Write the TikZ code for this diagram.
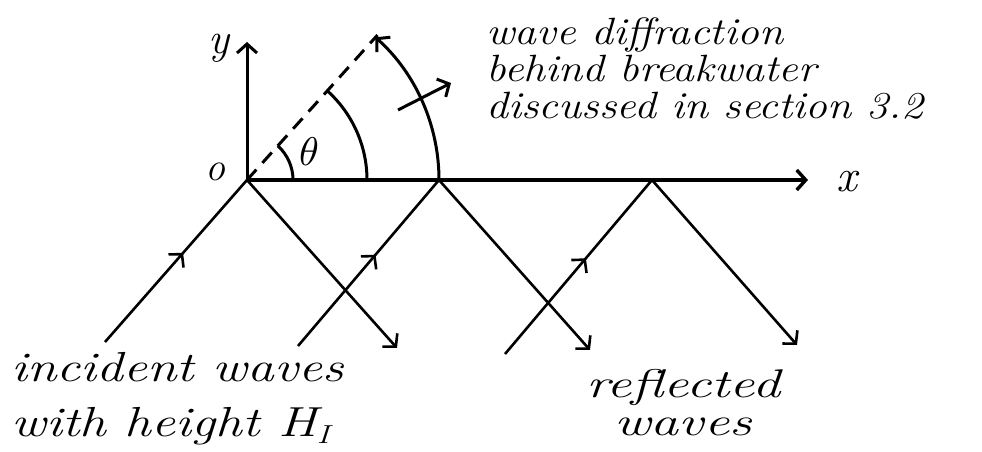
\documentclass[tikz,border=0pt]{standalone}
\usepackage{fontspec}
\usetikzlibrary{arrows.meta,decorations.markings,calc}
\newcommand{\hand}[2]{\fontsize{#1}{#2}\selectfont\itshape}
\newcommand{\sub}[1]{\raisebox{-0.35ex}{\fontsize{26}{26}\selectfont #1}}
\newcommand{\wide}[3]{\scalebox{#1}[1]{\begin{tabular}{@{}#2@{}}#3\end{tabular}}}

\begin{document}
\begin{tikzpicture}[x=1pt,y=1pt,line width=3pt,
    barb/.tip={Straight Barb[length=9pt,width=20pt]},
    ray/.style={line width=2.6pt},
    midarrow/.style={postaction={decorate},decoration={markings,
        mark=at position 0.55 with {\arrow{barb}}}},
    lbl/.style={inner sep=0pt}]
        \useasboundingbox (0,0) rectangle (982,452);
        % axes and reflection points on the breakwater
        \coordinate (O) at (247,272);
        \coordinate (A) at (439,272);
        \coordinate (B) at (652,272);
        \draw[line width=3.4pt,-barb] (O) -- (808,272) coordinate (xend);
        \draw[-barb] (O) -- (247,410) coordinate (yend);
        \node[lbl,font=\hand{46}{46}] (xlbl) at (847,270) {x};
        \node[lbl,font=\hand{44}{44}] (ylbl) at (219,404) {y};
        \node[lbl,font=\hand{40}{40}] (olbl) at (215,280) {o};
        % diffraction region behind the breakwater
        \draw[dash pattern=on 14pt off 9pt] (O) -- ($(O)+(48:195)$) coordinate (dend);
        \draw[-barb] (A) arc[start angle=0,end angle=48,radius=192];
        \draw ($(O)+(120,0)$) arc[start angle=0,end angle=48,radius=120];
        \draw ($(O)+(46,0)$) arc[start angle=0,end angle=48,radius=46];
        \node[lbl] (theta) at (309,300) {\scalebox{4}{$\theta$}};
        \coordinate (p) at (398,342);
        \coordinate (q) at (451,369);
        \draw[-barb] (p) -- (q);
        \node[lbl,anchor=north west,font=\hand{38}{36}] (diff) at (485,436)
          {\wide{1.15}{l}{wave diffraction\\behind breakwater\\discussed in section 3.2}};
        % incident and reflected waves
        \foreach \s/\r/\e in {{(105,110)}/O/{(397,104)},{(298,106)}/A/{(590,102)},{(505,98)}/B/{(797,107)}}
          {\draw[ray,midarrow] \s -- (\r);
           \draw[ray,-barb] (\r) -- \e;}
        \node[lbl,anchor=north west,font=\hand{42}{55}] (inc) at (10,110)
          {\wide{1.27}{l}{incident waves\\with height H\sub{I}}};
        \node[lbl,anchor=north,font=\hand{40}{38}] (refl) at (683,84)
          {\wide{1.4}{c}{reflected\\waves}};
      \end{tikzpicture}
\end{document}
